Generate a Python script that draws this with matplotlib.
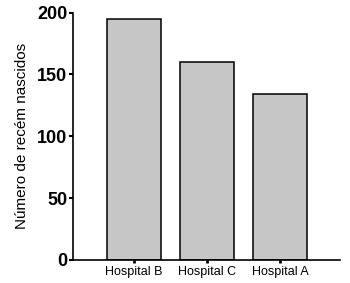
import matplotlib
matplotlib.use("Agg")
import matplotlib.pyplot as plt
import matplotlib.transforms as mtransforms

plt.rcParams['font.family'] = ['Liberation Sans', 'DejaVu Sans']

hospitais = ["Hospital B", "Hospital C", "Hospital A"]
recem_nascidos = [195, 160, 134]
y_ticks = [0, 50, 100, 150, 200]

fig = plt.figure(figsize=(3.5, 2.83), dpi=100)
ax = fig.add_axes([0.2086, 0.0813, 0.7624, 0.8745])

x = range(len(hospitais))
ax.bar(x, recem_nascidos, width=0.74, color="#c6c6c6", edgecolor="black", linewidth=1.1)

ax.set_xlim(-0.836, 2.82)
ax.set_ylim(0, 200)
ax.set_xticks(list(x))
ax.set_xticklabels(hospitais, fontsize=9)
ax.set_yticks(y_ticks)
ax.set_yticklabels([str(v) for v in y_ticks], fontsize=13, fontweight="bold")

# o "0" fica um pouco acima do eixo no original
lbl0 = ax.get_yticklabels()[0]
lbl0.set_transform(lbl0.get_transform() + mtransforms.ScaledTranslation(0, 7 / 100, fig.dpi_scale_trans))

ax.spines["top"].set_visible(False)
ax.spines["right"].set_visible(False)
ax.spines["left"].set_linewidth(1.2)
ax.spines["bottom"].set_linewidth(1.2)
ax.tick_params(axis="y", length=3, width=1.5, pad=1)
ax.tick_params(axis="x", length=2.5, width=2, pad=2)

ax.set_ylabel("Número de recém nascidos", fontsize=11, labelpad=6)

fig.savefig("out.png", dpi=100)
